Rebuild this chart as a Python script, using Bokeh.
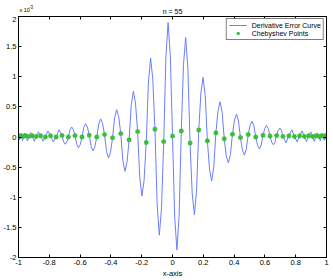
from bokeh.plotting import figure
from bokeh.layouts import column
from bokeh.models import (FixedTicker, LinearAxis, Legend, LegendItem,
                          CustomJSTickFormatter)
from bokeh.core.properties import value
from bokeh.embed import file_html
from bokeh.resources import INLINE

# ---- data (error values in units of 1e-3) ----
# local extrema of the error curve
ext_x = [-1.0, -0.9984, -0.9935, -0.9854, -0.9740, -0.9595, -0.9418, -0.9211,
         -0.8974, -0.8708, -0.8413, -0.8090, -0.7742, -0.7368, -0.6971, -0.6549,
         -0.6107, -0.5646, -0.5164, -0.4667, -0.4154, -0.3628, -0.3090, -0.2542,
         -0.1986, -0.1423, -0.0856, -0.0286,
         0.0286, 0.0856, 0.1423, 0.1986, 0.2542, 0.3090, 0.3628, 0.4154,
         0.4667, 0.5164, 0.5646, 0.6107, 0.6549, 0.6971, 0.7368, 0.7742,
         0.8090, 0.8413, 0.8708, 0.8974, 0.9211, 0.9418, 0.9595, 0.9740,
         0.9854, 0.9935, 0.9984, 1.0]
ext_y = [-0.04, 0.05, -0.05, 0.055, -0.06, 0.065, -0.065, 0.075,
         -0.07, 0.085, -0.07, 0.10, -0.08, 0.12, -0.12, 0.167,
         -0.18, 0.22, -0.23, 0.30, -0.35, 0.454, -0.57, 0.76,
         -0.98, 1.31, -1.63, 1.90,
         -1.875, 1.65, -1.29, 0.99, -0.73, 0.585, -0.43, 0.38,
         -0.30, 0.26, -0.20, 0.19, -0.13, 0.15, -0.095, 0.12,
         -0.08, 0.10, -0.075, 0.085, -0.07, 0.07, -0.065, 0.06,
         -0.055, 0.05, -0.05, 0.04]

# curve read on the flanks of the larger oscillations
flank_x = [-0.7071, -0.6867, -0.6656, -0.6440, -0.6219, -0.5993, -0.5762, -0.5526,
           -0.5285, -0.5041, -0.4792, -0.4540, -0.4283, -0.4024, -0.3761, -0.3494,
           -0.3225, -0.2954, -0.2680, -0.2404, -0.2126, -0.1846, -0.1564, -0.1282,
           -0.0998, -0.0714, -0.0429, -0.0143,
           0.0143, 0.0429, 0.0714, 0.0998, 0.1282, 0.1564, 0.1846, 0.2126,
           0.2404, 0.2680, 0.2954, 0.3225, 0.3494, 0.3761, 0.4024, 0.4283,
           0.4540, 0.4792, 0.5041, 0.5285, 0.5526, 0.5762, 0.5993, 0.6219,
           0.6440, 0.6656, 0.6867, 0.7071]
flank_y = [-0.078, -0.085, 0.119, 0.126, -0.121, -0.128, 0.156, 0.165,
           -0.155, -0.163, 0.213, 0.225, -0.237, -0.253, 0.318, 0.339,
           -0.388, -0.418, 0.526, 0.566, -0.670, -0.722, 0.904, 0.968,
           -1.120, -1.179, 1.327, 1.354,
           -1.327, -1.302, 1.20, 1.143, -0.945, -0.882, 0.737, 0.685,
           -0.536, -0.498, 0.436, 0.407, -0.314, -0.292, 0.283, 0.267,
           -0.215, -0.201, 0.196, 0.185, -0.142, -0.133, 0.144, 0.140,
           -0.088, -0.085, 0.114, 0.109]

# Chebyshev points and the error there
cheb_x = [-0.9996, -0.9963, -0.9898, -0.9801, -0.9671, -0.9511, -0.9319, -0.9096,
          -0.8844, -0.8564, -0.8255, -0.7919, -0.7558, -0.7171, -0.6762, -0.6331,
          -0.5878, -0.5406, -0.4917, -0.4412, -0.3893, -0.3360, -0.2817, -0.2265,
          -0.1705, -0.1140, -0.0571, 0.0,
          0.0571, 0.1140, 0.1705, 0.2265, 0.2817, 0.3360, 0.3893, 0.4412,
          0.4917, 0.5406, 0.5878, 0.6331, 0.6762, 0.7171, 0.7558, 0.7919,
          0.8255, 0.8564, 0.8844, 0.9096, 0.9319, 0.9511, 0.9671, 0.9801,
          0.9898, 0.9963, 0.9996]
cheb_y = [0.01, 0.02, 0.01, 0.02, 0.01, 0.02, 0.01, 0.02,
          0.01, 0.02, 0.0, 0.02, 0.0, 0.025, 0.0, 0.024,
          0.0, 0.03, 0.0, 0.04, -0.014, 0.057, -0.046, 0.09,
          -0.09, 0.13, -0.076, 0.016,
          0.10, -0.10, 0.117, -0.062, 0.07, -0.03, 0.046, -0.008,
          0.04, 0.0, 0.03, 0.016, 0.025, 0.01, 0.02, 0.01,
          0.02, 0.01, 0.02, 0.01, 0.02, 0.01, 0.02, 0.01,
          0.02, 0.01, 0.02]

xticks = [-1, -0.8, -0.6, -0.4, -0.2, 0, 0.2, 0.4, 0.6, 0.8, 1]
xtick_labels = ["-1", "-0.8", "-0.6", "-0.4", "-0.2", "0", "0.2", "0.4", "0.6", "0.8", "1"]
yticks = [-2, -1.5, -1, -0.5, 0, 0.5, 1, 1.5, 2]
ytick_labels = ["-2", "-1.5", "-1", "-0.5", "0", "0.5", "1", "1.5", "2"]

title_text = "n = 55"
scale_text = "x 10"
scale_exp = "-3"

# the curve passes through extrema, flank readings and the Chebyshev-point values
curve = sorted(zip(ext_x + flank_x + cheb_x, ext_y + flank_y + cheb_y))
cx = [c[0] for c in curve]
cy = [c[1] for c in curve]

FONT = "Liberation Sans"
BLUE = "#6a7eff"
GREEN = "#3cbc3c"

# ---- header strip (title and axis multiplier, above the axes box) ----
head = figure(width=333, height=16, x_range=(-1, 1), y_range=(0, 16),
              output_backend="svg", toolbar_location=None,
              x_axis_type=None, y_axis_type=None,
              min_border_left=16, min_border_right=7, min_border_top=0,
              min_border_bottom=0)
head.outline_line_color = None
head.background_fill_color = "white"
head.border_fill_color = "white"
head.text(x=[-1], y=[6.5], text=[scale_text], x_offset=1,
          text_font=value(FONT), text_font_size="5.5px", text_color="black",
          text_align="left", text_baseline="alphabetic")
head.text(x=[-1], y=[9.3], text=[scale_exp], x_offset=10.5,
          text_font=value(FONT), text_font_size="4.5px", text_color="black",
          text_align="left", text_baseline="alphabetic")
head.text(x=[0], y=[5.5], text=[title_text],
          text_font=value(FONT), text_font_size="7px", text_color="black",
          text_align="center", text_baseline="alphabetic")

# ---- main axes ----
p = figure(width=333, height=264, x_range=(-1, 1), y_range=(-2, 2),
           output_backend="svg", toolbar_location=None,
           min_border_left=16, min_border_right=7, min_border_top=0,
           min_border_bottom=19, x_axis_label="x-axis")
p.background_fill_color = "white"
p.border_fill_color = "white"
p.outline_line_color = "black"
p.outline_line_width = 1
p.xgrid.visible = False
p.ygrid.visible = False


def style(ax, ticks, labels=None):
    ax.ticker = FixedTicker(ticks=ticks)
    ax.major_tick_in = 3
    ax.major_tick_out = 0
    ax.minor_tick_line_color = None
    ax.axis_line_color = "black"
    ax.major_tick_line_color = "black"
    ax.major_label_text_font = FONT
    ax.major_label_text_color = "black"
    ax.axis_label_text_font = FONT
    ax.axis_label_text_font_size = "7.5px"
    ax.axis_label_text_color = "black"
    ax.axis_label_text_font_style = "normal"
    ax.axis_label_standoff = 1
    if labels is None:
        ax.formatter = CustomJSTickFormatter(code="return ''")
        ax.major_label_text_font_size = "0px"
        ax.major_label_standoff = 0
    else:
        ax.major_label_overrides = {t: l for t, l in zip(ticks, labels)}
        ax.major_label_text_font_size = "7.5px"
        ax.major_label_standoff = 2


style(p.xaxis[0], xticks, xtick_labels)
style(p.yaxis[0], yticks, ytick_labels)
top_ax = LinearAxis()
right_ax = LinearAxis()
style(top_ax, xticks)
style(right_ax, yticks)
p.add_layout(top_ax, "above")
p.add_layout(right_ax, "right")

r1 = p.line(cx, cy, line_color=BLUE, line_width=1)
r2 = p.scatter(cheb_x, cheb_y, marker="asterisk", size=5, line_color=GREEN,
               line_width=1.3)

legend = Legend(items=[LegendItem(label="Derivative Error Curve", renderers=[r1]),
                       LegendItem(label="Chebyshev Points", renderers=[r2])],
                location="top_right", margin=2, padding=2, spacing=0,
                label_text_font=FONT, label_text_font_size="7px",
                label_text_color="black",
                label_height=8, glyph_height=8, glyph_width=18,
                label_standoff=5, border_line_color="black",
                border_line_width=1, background_fill_alpha=1)
p.add_layout(legend)

layout = column(head, p, spacing=0)
open("out.html", "w").write(file_html(layout, INLINE))
